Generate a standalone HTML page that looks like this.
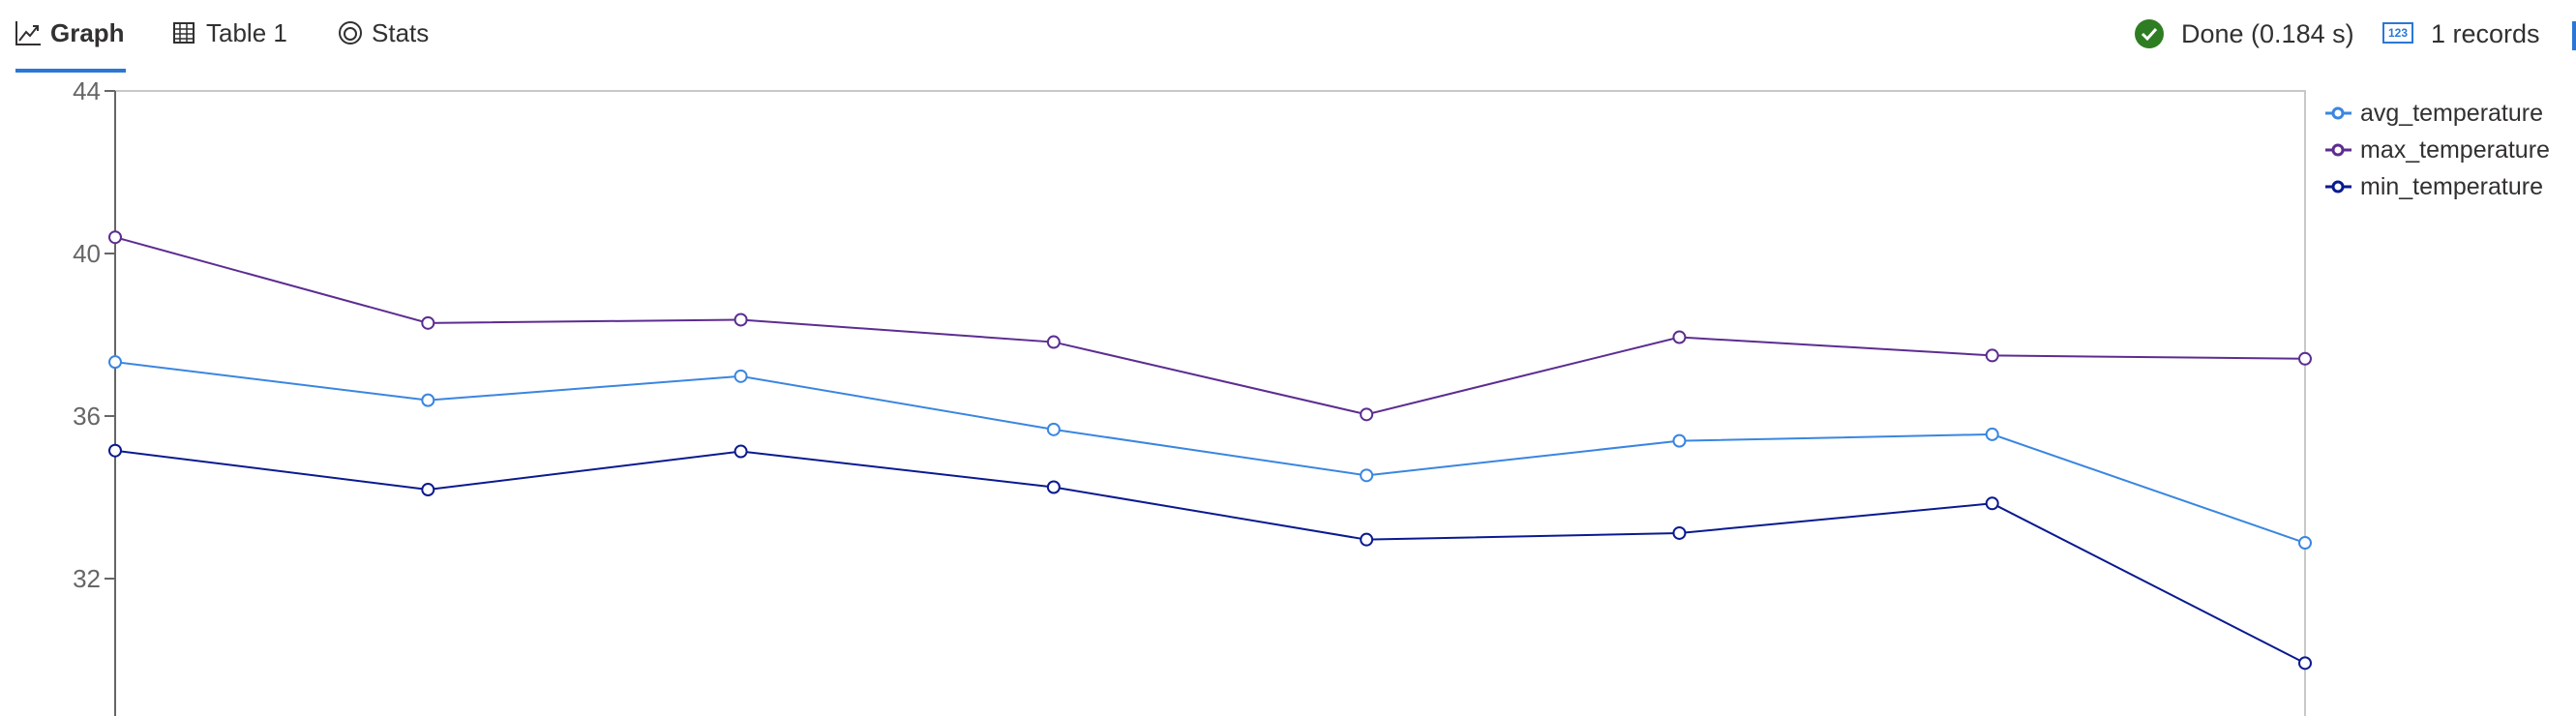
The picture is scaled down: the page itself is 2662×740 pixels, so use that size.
<!DOCTYPE html>
<html><head><meta charset="utf-8"><style>
html,body{margin:0;padding:0;background:#fff;width:2662px;height:740px;overflow:hidden;font-family:"Liberation Sans",sans-serif;}
.t{position:absolute;color:#323130;font-size:26px;line-height:30px;white-space:nowrap;}
</style></head><body>
<div>
<svg style="position:absolute;left:16px;top:21px" width="27" height="26"><path d="M1 1V25H26" fill="none" stroke="#323130" stroke-width="2"/><path d="M4 21L11 12L15 16L23 6M18 6H23V11" fill="none" stroke="#323130" stroke-width="2"/></svg>
<div class="t" style="left:52px;top:19px;font-weight:bold">Graph</div>
</div>
<div style="position:absolute;left:16px;top:71px;width:114px;height:4px;background:#2b77d6"></div>
<div>
<svg style="position:absolute;left:179px;top:23px" width="22" height="22"><rect x="1" y="1" width="20" height="20" fill="none" stroke="#323130" stroke-width="2"/><path d="M1 7H21M1 12H21M1 17H21M7 1V21M14 1V21" stroke="#323130" stroke-width="1.5"/></svg>
<div class="t" style="left:213px;top:19px">Table 1</div>
</div>
<div>
<svg style="position:absolute;left:349px;top:21px" width="26" height="26"><circle cx="13" cy="13" r="11" fill="none" stroke="#323130" stroke-width="2"/><circle cx="13" cy="14" r="6" fill="none" stroke="#323130" stroke-width="2"/></svg>
<div class="t" style="left:384px;top:19px">Stats</div>
</div>
<svg style="position:absolute;left:2205px;top:19px" width="32" height="32"><circle cx="16" cy="16" r="15" fill="#2f7d22"/><path d="M9 16L14 21L23 11" fill="none" stroke="#fff" stroke-width="3"/></svg>
<div class="t" style="left:2254px;top:20px;font-size:27px">Done (0.184 s)</div>
<div style="position:absolute;left:2462px;top:23px;width:28px;height:18px;border:2px solid #2b77d6;color:#2b77d6;font-size:12px;font-weight:bold;text-align:center;line-height:18px">123</div>
<div class="t" style="left:2512px;top:20px;font-size:27px">1 records</div>
<div style="position:absolute;left:2658px;top:22px;width:4px;height:30px;background:#2b77d6"></div>

<svg id="chart" style="position:absolute;left:0;top:0" width="2662" height="740"></svg>
<script>
const categories=["1","2","3","4","5","6","7","8"];
const maxTemp=[40.4,38.29,38.37,37.82,36.04,37.94,37.49,37.41];
const avgTemp=[37.33,36.39,36.98,35.67,34.54,35.39,35.55,32.88];
const minTemp=[35.15,34.19,35.13,34.25,32.96,33.12,33.85,29.92];
const yTicks=[44,40,36,32];
const NS="http://www.w3.org/2000/svg";
const svg=document.getElementById('chart');
const X0=119,X1=2382,Y0=94,PX=42;
function xs(i){return X0+(X1-X0)*i/(categories.length-1);}
function ys(v){return Y0+(44-v)*PX;}
function mk(t,a){const e=document.createElementNS(NS,t);for(const k in a)e.setAttribute(k,a[k]);svg.appendChild(e);return e;}
let b=mk('path',{d:`M${X0} ${Y0}H${X1}V740`,fill:'none',stroke:'#c8c8c8','stroke-width':2});


let ax=mk('line',{x1:X0,y1:Y0,x2:X0,y2:740,stroke:'#666','stroke-width':2});


yTicks.forEach(v=>{
  const y=ys(v);
  let tk=mk('line',{x1:X0-11,y1:y,x2:X0,y2:y,stroke:'#666','stroke-width':2});
  
  
  let tx=mk('text',{x:X0-15,y:y+9,'text-anchor':'end','font-size':26,fill:'#666','font-family':'Liberation Sans, sans-serif'});
  tx.textContent=v;
  
  
});
const series=[["max_temperature",maxTemp,"#5c2d91"],["avg_temperature",avgTemp,"#3a86e0"],["min_temperature",minTemp,"#0a1a8f"]];
series.forEach(([name,vals,c])=>{
  let p=mk('polyline',{points:vals.map((v,i)=>xs(i)+','+ys(v)).join(' '),fill:'none',stroke:c,'stroke-width':2});
  
  
  vals.forEach((v,i)=>{
    let m=mk('circle',{cx:xs(i),cy:ys(v),r:6,fill:'#fff',stroke:c,'stroke-width':2});
    
    
  });
});
const legend=[["avg_temperature","#3a86e0",117],["max_temperature","#5c2d91",155],["min_temperature","#0a1a8f",193]];
legend.forEach(([n,c,y])=>{
  let g=mk('g',{});
  
  
  const l=document.createElementNS(NS,'line');
  [['x1',2403],['y1',y],['x2',2430],['y2',y],['stroke',c],['stroke-width',3]].forEach(a=>l.setAttribute(a[0],a[1]));g.appendChild(l);
  const ci=document.createElementNS(NS,'circle');
  [['cx',2416],['cy',y],['r',5],['fill','#fff'],['stroke',c],['stroke-width',3]].forEach(a=>ci.setAttribute(a[0],a[1]));g.appendChild(ci);
  const t=document.createElementNS(NS,'text');
  [['x',2439],['y',y+8],['font-size',25],['fill','#323130'],['font-family','Liberation Sans, sans-serif']].forEach(a=>t.setAttribute(a[0],a[1]));
  t.textContent=n;g.appendChild(t);
});
</script>
</body></html>
